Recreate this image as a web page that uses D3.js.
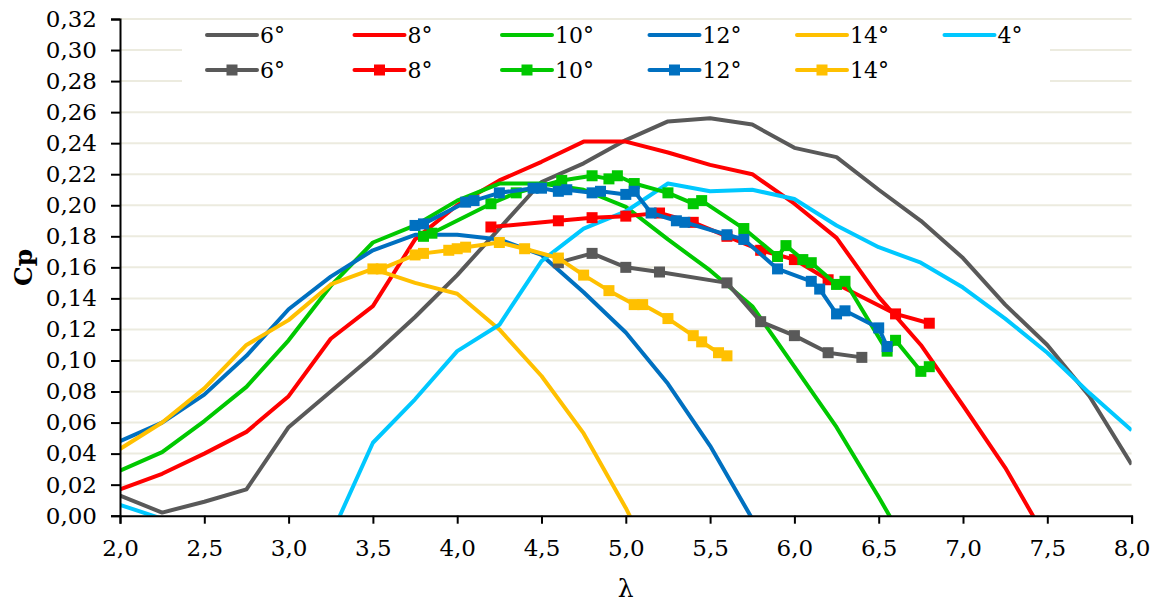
<!DOCTYPE html>
<html>
<head>
<meta charset="utf-8">
<script src="https://cdn.jsdelivr.net/npm/d3@7"></script>
<style>
  body { margin: 0; background: #fff; }
  svg { display: block; font-family: "DejaVu Serif", serif; }
</style>
</head>
<body>
<svg width="1158" height="605"></svg>
<script>
// tip speed ratio grid for the plain curves
const lambdaGrid = [2.0, 2.25, 2.5, 2.75, 3.0, 3.25, 3.5, 3.75, 4.0, 4.25, 4.5, 4.75, 5.0,
                    5.25, 5.5, 5.75, 6.0, 6.25, 6.5, 6.75, 7.0, 7.25, 7.5, 7.75, 8.0];

const cp6 = [0.013, 0.002, 0.009, 0.017, 0.057, 0.080, 0.103, 0.128, 0.155, 0.185, 0.215, 0.227, 0.242,
             0.254, 0.256, 0.252, 0.237, 0.231, 0.210, 0.190, 0.166, 0.136, 0.110, 0.077, 0.033];
const cp8 = [0.017, 0.027, 0.040, 0.054, 0.077, 0.114, 0.135, 0.178, 0.200, 0.216, 0.228, 0.241, 0.241,
             0.234, 0.226, 0.220, 0.201, 0.179, 0.141, 0.110, 0.071, 0.031, -0.016, null, null];
const cp10 = [0.029, 0.041, 0.061, 0.083, 0.113, 0.148, 0.176, 0.187, 0.203, 0.214, 0.214, 0.210, 0.199,
              0.178, 0.158, 0.135, 0.096, 0.057, 0.012, -0.035, null, null, null, null, null];
const cp12 = [0.048, 0.060, 0.078, 0.103, 0.133, 0.154, 0.171, 0.181, 0.181, 0.178, 0.168, 0.144, 0.118,
              0.085, 0.045, -0.002, null, null, null, null, null, null, null, null, null];
const cp14 = [0.043, 0.060, 0.082, 0.110, 0.126, 0.149, 0.159, 0.150, 0.143, 0.120, 0.090, 0.053, 0.005,
              -0.050, null, null, null, null, null, null, null, null, null, null, null];
const cp4 = [0.007, -0.002, null, null, null, -0.013, 0.047, 0.075, 0.106, 0.123, 0.164, 0.185, 0.196,
             0.214, 0.209, 0.210, 0.204, 0.187, 0.173, 0.163, 0.147, 0.127, 0.105, 0.079, 0.055];

// measured series (with markers)
const mk6X = [4.6, 4.8, 5.0, 5.2, 5.6, 5.8, 6.0, 6.2, 6.4];
const mk6Y = [0.163, 0.169, 0.160, 0.157, 0.150, 0.125, 0.116, 0.105, 0.102];
const mk8X = [4.2, 4.6, 4.8, 5.0, 5.2, 5.4, 5.6, 5.8, 6.0, 6.2, 6.6, 6.8];
const mk8Y = [0.186, 0.190, 0.192, 0.193, 0.195, 0.189, 0.180, 0.171, 0.165, 0.152, 0.130, 0.124];
const mk10X = [3.80, 3.85, 4.20, 4.35, 4.62, 4.80, 4.90, 4.95, 5.05, 5.25, 5.40, 5.45,
               5.70, 5.90, 5.95, 6.05, 6.10, 6.25, 6.30, 6.55, 6.60, 6.75, 6.80];
const mk10Y = [0.180, 0.182, 0.201, 0.208, 0.216, 0.219, 0.217, 0.219, 0.214, 0.208, 0.201, 0.203,
               0.185, 0.167, 0.174, 0.165, 0.163, 0.149, 0.151, 0.106, 0.113, 0.093, 0.096];
const mk12X = [3.75, 3.80, 4.05, 4.10, 4.25, 4.45, 4.50, 4.60, 4.65, 4.80, 4.85, 5.00, 5.05,
               5.15, 5.30, 5.35, 5.60, 5.70, 5.90, 6.10, 6.15, 6.25, 6.30, 6.50, 6.55];
const mk12Y = [0.187, 0.188, 0.202, 0.203, 0.208, 0.211, 0.211, 0.209, 0.210, 0.208, 0.209, 0.207, 0.209,
               0.195, 0.190, 0.189, 0.181, 0.178, 0.159, 0.151, 0.146, 0.130, 0.132, 0.121, 0.109];
const mk14X = [3.50, 3.55, 3.75, 3.80, 3.95, 4.00, 4.05, 4.25, 4.40, 4.60, 4.75, 4.90, 5.05,
               5.10, 5.25, 5.40, 5.45, 5.55, 5.60];
const mk14Y = [0.159, 0.159, 0.168, 0.169, 0.171, 0.172, 0.173, 0.176, 0.172, 0.166, 0.155, 0.145, 0.136,
               0.136, 0.127, 0.116, 0.112, 0.105, 0.103];

const lineLabels = ['6°', '8°', '10°', '12°', '14°', '4°'];
const lineColors = ['#595959', '#ff0000', '#00c800', '#0070c0', '#ffc000', '#00c8ff'];
const markerLabels = ['6°', '8°', '10°', '12°', '14°'];
const markerColors = ['#595959', '#ff0000', '#00c800', '#0070c0', '#ffc000'];

const xTicks = [2.0, 2.5, 3.0, 3.5, 4.0, 4.5, 5.0, 5.5, 6.0, 6.5, 7.0, 7.5, 8.0];
const yTicks = [0, 0.02, 0.04, 0.06, 0.08, 0.10, 0.12, 0.14, 0.16, 0.18, 0.20,
                0.22, 0.24, 0.26, 0.28, 0.30, 0.32];

const svg = d3.select('svg');
const LEFT = 120, RIGHT = 1131.6, TOP = 19, BOTTOM = 515.7;

const X_SCALE = d3.scaleLinear().domain([2, 8]).range([LEFT, RIGHT]);
const Y_SCALE = d3.scaleLinear().domain([0, 0.32]).range([BOTTOM, TOP]);

const comma = f => d => d3.format(f)(d).replace('.', ',');

// gridlines
svg.append('g')
    .selectAll('line')
    .data(yTicks.filter(d => d > 0))
    .join('line')
    .attr('x1', LEFT).attr('x2', RIGHT)
    .attr('y1', d => Y_SCALE(d)).attr('y2', d => Y_SCALE(d))
    .attr('stroke', '#ecebdf')
    .attr('stroke-width', 2);

// legend background
svg.append('rect')
    .attr('x', 182).attr('y', 21)
    .attr('width', 868).attr('height', 68)
    .attr('fill', '#fff');

svg.append('clipPath').attr('id', 'plot')
    .append('rect')
    .attr('x', LEFT).attr('y', TOP)
    .attr('width', RIGHT - LEFT).attr('height', BOTTOM - TOP);

const plot = svg.append('g').attr('clip-path', 'url(#plot)');

const line = d3.line()
    .defined(d => d[1] !== null)
    .x(d => X_SCALE(d[0]))
    .y(d => Y_SCALE(d[1]));

const curveSeries = [cp6, cp8, cp10, cp12, cp14, cp4];
curveSeries.forEach((vals, i) => {
    plot.append('path')
        .datum(lambdaGrid.map((x, j) => [x, vals[j] === undefined ? null : vals[j]]))
        .attr('d', line)
        .attr('fill', 'none')
        .attr('stroke', lineColors[i])
        .attr('stroke-width', 4)
        .attr('stroke-linejoin', 'round');
});

const markerSeries = [[mk6X, mk6Y], [mk8X, mk8Y], [mk10X, mk10Y], [mk12X, mk12Y], [mk14X, mk14Y]];
const MS = 11;
markerSeries.forEach(([xs, ys], i) => {
    const pts = xs.map((x, j) => [x, ys[j]]);
    const g = plot.append('g');
    g.append('path')
        .datum(pts)
        .attr('d', line)
        .attr('fill', 'none')
        .attr('stroke', markerColors[i])
        .attr('stroke-width', 4)
        .attr('stroke-linejoin', 'round');
    g.selectAll('rect')
        .data(pts)
        .join('rect')
        .attr('x', d => X_SCALE(d[0]) - MS / 2)
        .attr('y', d => Y_SCALE(d[1]) - MS / 2)
        .attr('width', MS).attr('height', MS)
        .attr('fill', markerColors[i]);
});

// axes
const yAxis = svg.append('g')
    .attr('transform', `translate(${LEFT},0)`)
    .call(d3.axisLeft(Y_SCALE).tickValues(yTicks).tickFormat(comma('.2f')).tickSize(9).tickPadding(14));
const xAxis = svg.append('g')
    .attr('transform', `translate(0,${BOTTOM})`)
    .call(d3.axisBottom(X_SCALE).tickValues(xTicks).tickFormat(comma('.1f')).tickSize(8).tickPadding(16));

[yAxis, xAxis].forEach(ax => {
    ax.select('.domain').attr('stroke', '#000').attr('stroke-width', 2);
    ax.selectAll('.tick line').attr('stroke', '#000').attr('stroke-width', 2);
    ax.selectAll('text')
        .attr('fill', '#000')
        .style('font-family', '"DejaVu Serif", serif')
        .style('font-size', '23px');
});

svg.append('text')
    .text('λ')
    .attr('x', (LEFT + RIGHT) / 2)
    .attr('y', 597)
    .style('text-anchor', 'middle')
    .style('font-size', '25px');

svg.append('text')
    .text('Cp')
    .attr('transform', `translate(32,${(TOP + BOTTOM) / 2}) rotate(-90)`)
    .style('text-anchor', 'middle')
    .style('font-size', '25px')
    .style('font-weight', 'bold');

// legend
const LEG_X0 = 207, LEG_STEP = 147.5, LEG_LEN = 50;
const legRow = (labels, colors, y, withMarker) => {
    const g = svg.append('g');
    labels.forEach((lab, i) => {
        const x = LEG_X0 + i * LEG_STEP;
        g.append('line')
            .attr('x1', x).attr('x2', x + LEG_LEN)
            .attr('y1', y).attr('y2', y)
            .attr('stroke', colors[i])
            .attr('stroke-width', 4)
            .attr('stroke-linecap', 'round');
        if (withMarker) {
            g.append('rect')
                .attr('x', x + LEG_LEN / 2 - MS / 2)
                .attr('y', y - MS / 2)
                .attr('width', MS).attr('height', MS)
                .attr('fill', colors[i]);
        }
        g.append('text')
            .text(lab)
            .attr('x', x + LEG_LEN + 3)
            .attr('y', y + 8)
            .style('font-size', '22px');
    });
};
legRow(lineLabels, lineColors, 35, false);
legRow(markerLabels, markerColors, 70, true);
</script>
</body>
</html>
